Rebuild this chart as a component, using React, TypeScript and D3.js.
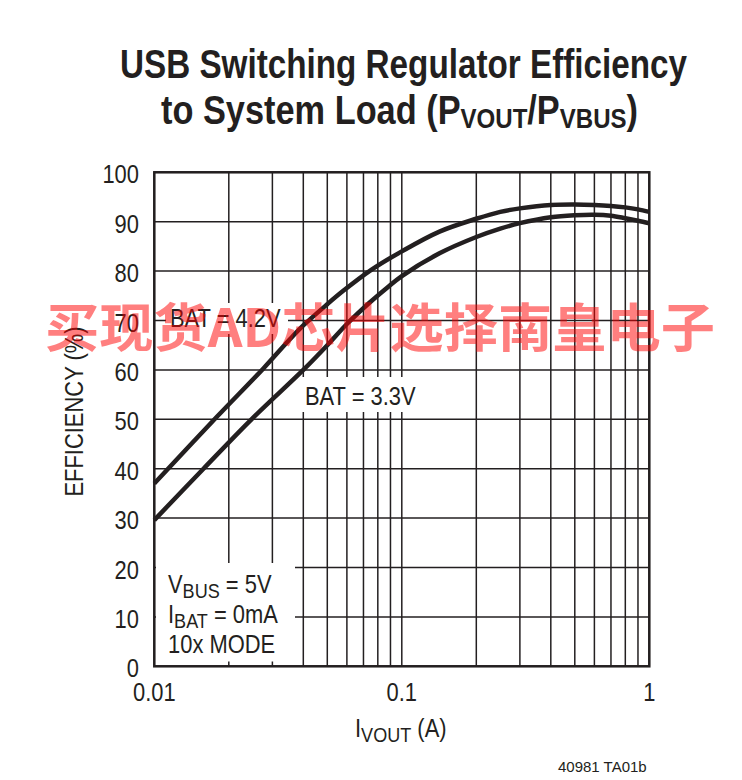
import React from "react";
import * as d3 from "d3";

const xTicksMajor = [0.01, 0.1, 1];
const xTickLabels = ["0.01", "0.1", "1"];
const yTicks = [0, 10, 20, 30, 40, 50, 60, 70, 80, 90, 100];

const loadCurrent42 = [0.01, 0.0179, 0.0276, 0.035, 0.04, 0.05, 0.058, 0.075, 0.1, 0.142, 0.2, 0.25, 0.3, 0.4, 0.5, 0.6, 0.7, 0.8, 0.9, 1];
const efficiency42 = [37.0, 50.5, 60.3, 66.0, 69.0, 73.3, 76.0, 80.2, 84.0, 88.0, 90.6, 92.0, 92.7, 93.4, 93.5, 93.4, 93.2, 92.9, 92.5, 92.0];

const loadCurrent33 = [0.01, 0.0158, 0.0247, 0.04, 0.05, 0.06, 0.074, 0.087, 0.1, 0.142, 0.2, 0.25, 0.3, 0.4, 0.5, 0.6, 0.7, 0.8, 0.9, 1];
const efficiency33 = [29.6, 40, 50, 60, 65, 69.3, 73.6, 76.6, 79.0, 83.6, 86.9, 88.6, 89.7, 90.9, 91.3, 91.4, 91.2, 90.7, 90.2, 89.7];

const INK = "#231f20";
const SANS = "'Liberation Sans', Arial, Helvetica, sans-serif";
const SQ = 0.86;

function NT(props: { x: number; y: number; anchor?: string; size?: number; rot?: number; children: React.ReactNode }) {
  const { x, y, anchor = "start", size = 25.5, rot = 0, children } = props;
  return (
    <g transform={`translate(${x},${y}) rotate(${rot}) scale(${SQ},1)`}>
      <text x={0} y={0} textAnchor={anchor} fontFamily={SANS} fontSize={size} fill={INK}>{children}</text>
    </g>
  );
}

export default function App() {
  const W = 742, H = 780;
  const x = d3.scaleLog().domain([0.01, 1]).range([154.3, 649.3]);
  const y = d3.scaleLinear().domain([0, 100]).range([666.3, 172.3]);

  const gridX: number[] = [];
  for (const dec of [0.01, 0.1]) for (let k = 1; k <= 9; k++) gridX.push(dec * k);
  gridX.push(1);

  const line = d3
    .line<[number, number]>()
    .x((d) => x(d[0]))
    .y((d) => y(d[1]))
    .curve(d3.curveCatmullRom.alpha(0.5));

  const s42 = loadCurrent42.map((v, i) => [v, efficiency42[i]] as [number, number]);
  const s33 = loadCurrent33.map((v, i) => [v, efficiency33[i]] as [number, number]);

  return (
    <svg width={W} height={H} style={{ position: "absolute", left: 0, top: 0, background: "#fff" }}>
      <rect x={0} y={0} width={W} height={H} fill="#fff" />
      {/* Title */}
      <text x={120} y={78} fontFamily={SANS} fontWeight="bold" fontSize={40} fill={INK}
        textLength={567} lengthAdjust="spacingAndGlyphs">USB Switching Regulator Efficiency</text>
      <text x={161} y={124} fontFamily={SANS} fontWeight="bold" fontSize={40} fill={INK}
        textLength={477} lengthAdjust="spacingAndGlyphs">
        <tspan>to System Load (P</tspan>
        <tspan fontSize={28} dy={4}>VOUT</tspan>
        <tspan dy={-4}>/P</tspan>
        <tspan fontSize={28} dy={4}>VBUS</tspan>
        <tspan dy={-4}>)</tspan>
      </text>

      {/* grid */}
      {gridX.map((g, i) => (
        <line key={"gx" + i} x1={x(g)} x2={x(g)} y1={y(0)} y2={y(100)} stroke={INK} strokeWidth={1.5} />
      ))}
      {yTicks.map((t) => (
        <line key={"gy" + t} x1={x(0.01)} x2={x(1)} y1={y(t)} y2={y(t)} stroke={INK} strokeWidth={1.5} />
      ))}

      {/* label backgrounds */}
      <rect x={166} y={303} width={122} height={31} fill="#fff" />
      <rect x={298} y={377} width={127} height={35} fill="#fff" />
      <rect x={156} y={563} width={139} height={98.5} fill="#fff" />

      {/* frame */}
      <rect x={x(0.01)} y={y(100)} width={x(1) - x(0.01)} height={y(0) - y(100)} fill="none" stroke={INK} strokeWidth={2.5} />

      {/* curves */}
      <path d={line(s42) || ""} fill="none" stroke={INK} strokeWidth={4.5} strokeLinecap="butt" />
      <path d={line(s33) || ""} fill="none" stroke={INK} strokeWidth={4.5} strokeLinecap="butt" />

      {/* y tick labels */}
      {yTicks.map((t) => (
        <NT key={"yl" + t} x={139} y={y(t) + 11} anchor="end">{t}</NT>
      ))}
      {/* x tick labels */}
      {xTicksMajor.map((t, i) => (
        <NT key={"xl" + t} x={x(t)} y={701} anchor="middle">{xTickLabels[i]}</NT>
      ))}

      {/* axis titles */}
      <NT x={83} y={411.5} anchor="middle" rot={-90}>EFFICIENCY (%)</NT>
      <NT x={355} y={737}>
        <tspan>I</tspan>
        <tspan fontSize={21} dy={5}>VOUT</tspan>
        <tspan dy={-5}> (A)</tspan>
      </NT>

      {/* series labels */}
      <NT x={170} y={327}>BAT = 4.2V</NT>
      <NT x={305} y={405}>BAT = 3.3V</NT>

      {/* conditions */}
      <NT x={168} y={593}>
        <tspan>V</tspan>
        <tspan fontSize={21} dy={5}>BUS</tspan>
        <tspan dy={-5}> = 5V</tspan>
      </NT>
      <NT x={168} y={623}>
        <tspan>I</tspan>
        <tspan fontSize={21} dy={5}>BAT</tspan>
        <tspan dy={-5}> = 0mA</tspan>
      </NT>
      <NT x={168} y={653}>10x MODE</NT>

      <text x={558} y={772} fontFamily={SANS} fontSize={15} fill={INK}>40981 TA01b</text>

      {/* watermark */}
      <text x={45} y={347} fontFamily="'Noto Sans CJK SC', sans-serif" fontWeight="bold" fontSize={52} fill="#ff0000" fillOpacity={0.5}
        textLength={670} lengthAdjust="spacingAndGlyphs">买现货AD芯片选择南皇电子</text>
    </svg>
  );
}
